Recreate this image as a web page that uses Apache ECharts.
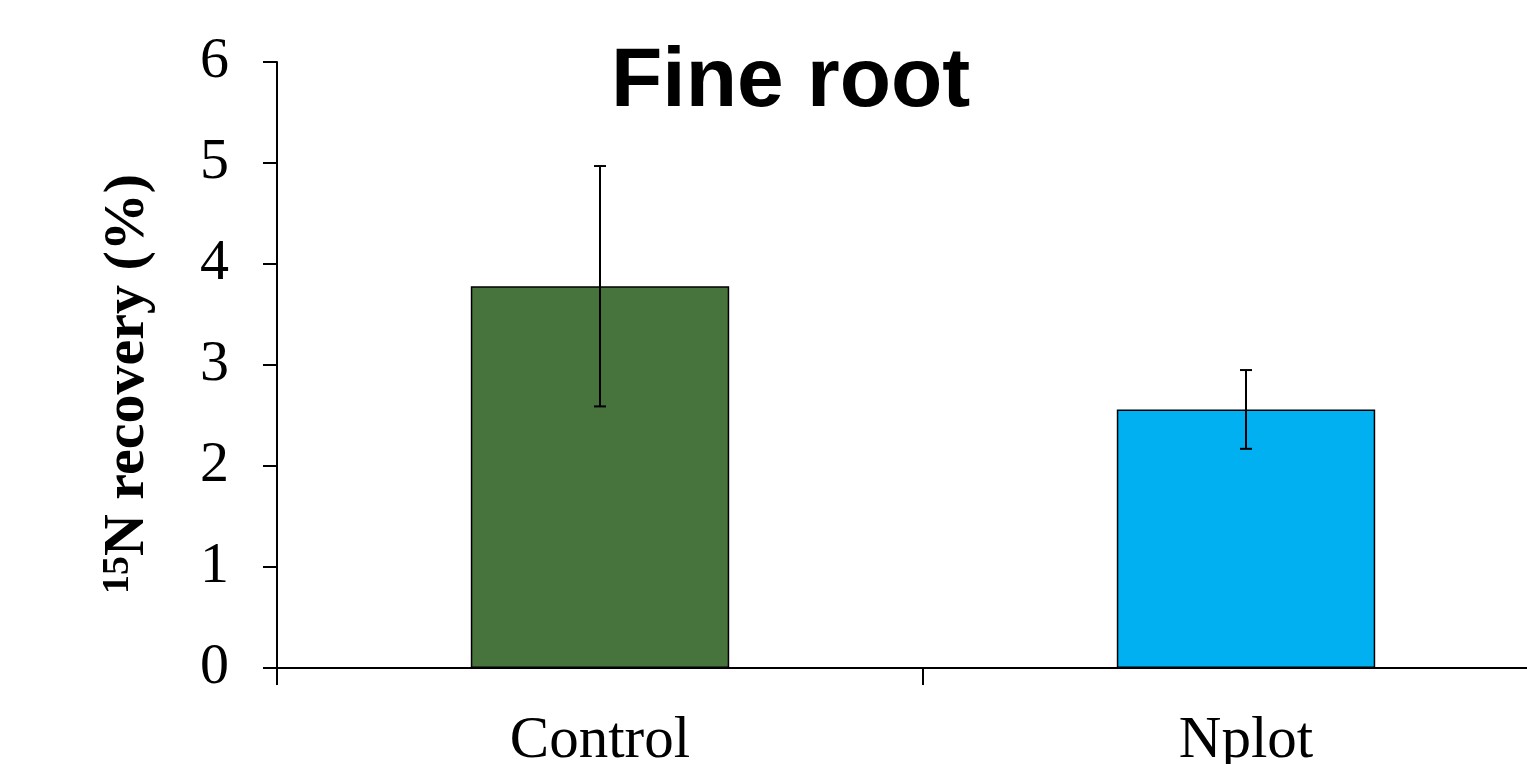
<!DOCTYPE html>
<html>
<head>
<meta charset="utf-8">
<script src="https://cdn.jsdelivr.net/npm/echarts@6/dist/echarts.min.js"></script>
<style>html,body{margin:0;padding:0;background:#fff;overflow:hidden;}#c{width:1527px;height:764px;}</style>
</head>
<body>
<div id="c"></div>
<script>
const categories = ['Control', 'Nplot'];
const values = [3.78, 2.56];
const errors = [1.19, 0.39];
const barColors = ['#47743D', '#00B0F0'];
const yTicks = [0, 1, 2, 3, 4, 5, 6];

const chart = echarts.init(document.getElementById('c'));
chart.setOption({
  animation: false,
  backgroundColor: '#fff',
  title: {
    text: 'Fine root',
    left: 606,
    top: 36,
    textStyle: { fontFamily: 'Liberation Sans', fontWeight: 'bold', fontSize: 84, color: '#000' }
  },
  grid: { left: 277, right: -42, top: 62, bottom: 96, containLabel: false, outerBoundsMode: 'none' },
  xAxis: {
    type: 'category',
    data: categories,
    axisLine: { lineStyle: { color: '#000', width: 2 } },
    axisTick: { show: true, length: 17, lineStyle: { color: '#000', width: 2 } },
    axisLabel: { color: '#000', fontFamily: 'Liberation Serif', fontSize: 59, margin: 44 }
  },
  yAxis: {
    type: 'value',
    min: yTicks[0],
    max: yTicks[yTicks.length - 1],
    interval: 1,
    splitLine: { show: false },
    axisLine: { show: true, lineStyle: { color: '#000', width: 2 } },
    axisTick: { show: true, length: 14, lineStyle: { color: '#000', width: 2 } },
    axisLabel: { color: '#000', fontFamily: 'Liberation Serif', fontSize: 58, margin: 48 },
    name: '{sup|15}{b|N recovery (%)}',
    nameLocation: 'middle',
    nameGap: 120,
    nameTextStyle: {
      padding: [0, 38, 0, 0],
      rich: {
        sup: { fontFamily: 'Liberation Serif', fontWeight: 'bold', fontSize: 38, color: '#000', verticalAlign: 'top', padding: [0, 0, 18, 0] },
        b: { fontFamily: 'Liberation Serif', fontWeight: 'bold', fontSize: 58, color: '#000' }
      }
    }
  },
  series: [
    {
      type: 'bar',
      barWidth: '40%',
      data: values.map((v, i) => ({ value: v, itemStyle: { color: barColors[i] } })),
      itemStyle: { borderColor: '#000', borderWidth: 1.5 }
    },
    {
      type: 'custom',
      z: 10,
      data: values.map((v, i) => [i, v - errors[i], v + errors[i]]),
      renderItem: function (params, api) {
        const x = api.value(0);
        const lo = api.coord([x, api.value(1)]);
        const hi = api.coord([x, api.value(2)]);
        const w = 6;
        const st = { stroke: '#000', lineWidth: 2 };
        return {
          type: 'group',
          children: [
            { type: 'line', shape: { x1: lo[0], y1: lo[1], x2: hi[0], y2: hi[1] }, style: st },
            { type: 'line', shape: { x1: hi[0] - w, y1: hi[1], x2: hi[0] + w, y2: hi[1] }, style: st },
            { type: 'line', shape: { x1: lo[0] - w, y1: lo[1], x2: lo[0] + w, y2: lo[1] }, style: st }
          ]
        };
      }
    }
  ]
});
</script>
</body>
</html>
